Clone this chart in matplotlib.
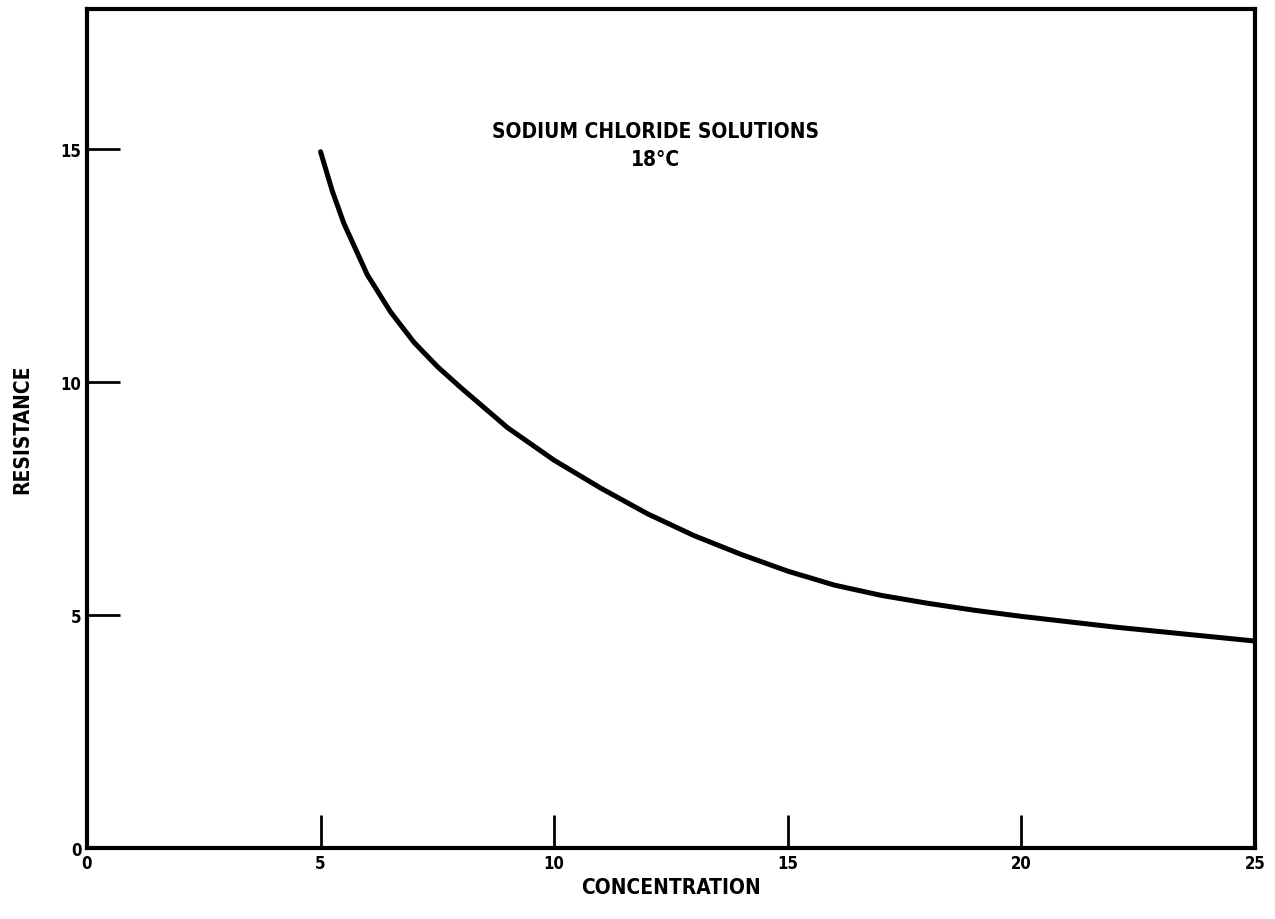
import matplotlib.pyplot as plt

# values
concentration = [5.0, 5.25, 5.5, 6.0, 6.5, 7.0, 7.5, 8.0, 9.0, 10.0, 11.0, 12.0,
                 13.0, 14.0, 15.0, 16.0, 17.0, 18.0, 19.0, 20.0, 22.0, 25.0]
resistance = [14.94, 14.1, 13.4, 12.3, 11.5, 10.85, 10.33, 9.88, 9.02, 8.32, 7.72, 7.17,
              6.70, 6.30, 5.94, 5.64, 5.42, 5.25, 5.10, 4.97, 4.74, 4.44]
xticks = [0, 5, 10, 15, 20, 25]
yticks = [0, 5, 10, 15]

font = dict(family='DejaVu Sans', stretch='condensed', weight='bold')

fig = plt.figure(figsize=(12.75, 9.2), dpi=100)
ax = fig.add_axes([0.0682, 0.0772, 0.9161, 0.9118])

ax.plot(concentration, resistance, color='black', lw=3.6,
        solid_capstyle='round', solid_joinstyle='round')

ax.set_xlim(0, 25)
ax.set_ylim(0, 18)
ax.set_xticks(xticks)
ax.set_yticks(yticks)
ax.tick_params(direction='in', length=24, width=2, color='black', pad=4)
for lab in ax.get_xticklabels() + ax.get_yticklabels():
    lab.set_fontproperties(dict(font, size=12))
for sp in ax.spines.values():
    sp.set_linewidth(3)

ax.set_xlabel('CONCENTRATION', fontsize=15, labelpad=4, **font)
ax.set_ylabel('RESISTANCE', fontsize=15, labelpad=20, **font)

ax.text(0.487, 0.855, 'SODIUM CHLORIDE SOLUTIONS', transform=ax.transAxes,
        ha='center', va='center', fontsize=15, **font)
ax.text(0.487, 0.821, '18°C', transform=ax.transAxes,
        ha='center', va='center', fontsize=15, **font)

fig.savefig('out.png', dpi=100)
